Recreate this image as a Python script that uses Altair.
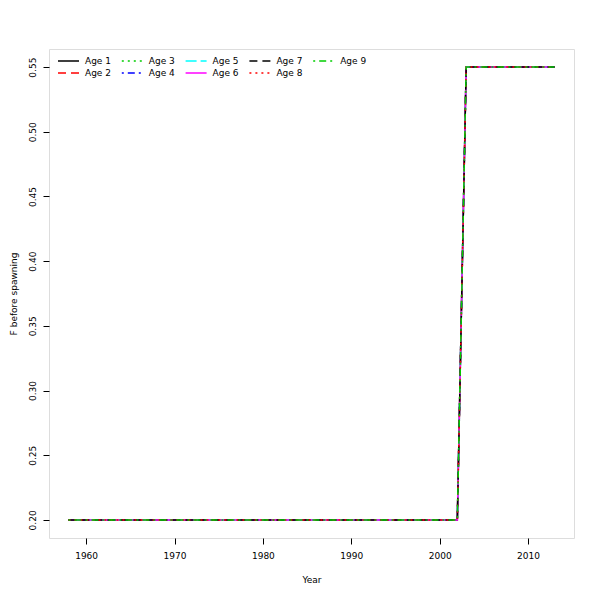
import altair as alt
import pandas as pd

years = [1958, 1959, 1960, 1961, 1962, 1963, 1964, 1965, 1966, 1967,
         1968, 1969, 1970, 1971, 1972, 1973, 1974, 1975, 1976, 1977,
         1978, 1979, 1980, 1981, 1982, 1983, 1984, 1985, 1986, 1987,
         1988, 1989, 1990, 1991, 1992, 1993, 1994, 1995, 1996, 1997,
         1998, 1999, 2000, 2001, 2002, 2003, 2004, 2005, 2006, 2007,
         2008, 2009, 2010, 2011, 2012, 2013]
f_values = [0.20, 0.20, 0.20, 0.20, 0.20, 0.20, 0.20, 0.20, 0.20, 0.20,
            0.20, 0.20, 0.20, 0.20, 0.20, 0.20, 0.20, 0.20, 0.20, 0.20,
            0.20, 0.20, 0.20, 0.20, 0.20, 0.20, 0.20, 0.20, 0.20, 0.20,
            0.20, 0.20, 0.20, 0.20, 0.20, 0.20, 0.20, 0.20, 0.20, 0.20,
            0.20, 0.20, 0.20, 0.20, 0.20, 0.55, 0.55, 0.55, 0.55, 0.55,
            0.55, 0.55, 0.55, 0.55, 0.55, 0.55]
ages = ["Age 1", "Age 2", "Age 3", "Age 4", "Age 5", "Age 6", "Age 7", "Age 8", "Age 9"]
colors = ["#000000", "#FF0000", "#00CD00", "#0000FF", "#00FFFF",
          "#FF00FF", "#000000", "#FF0000", "#00CD00"]
dashes = [[1, 0], [8, 5], [2, 4], [2, 4, 7, 4], [11, 4],
          [1, 0], [8, 5], [2, 4], [2, 4, 7, 4]]
x_ticks = [1960, 1970, 1980, 1990, 2000, 2010]
y_ticks = [0.20, 0.25, 0.30, 0.35, 0.40, 0.45, 0.50, 0.55]

rows = []
for a in ages:
    for yr, v in zip(years, f_values):
        rows.append({"age": a, "year": yr, "f": v})
df = pd.DataFrame(rows)

# legend fills row-wise; reorder so it reads column-wise like R
legend_order = [0, 2, 4, 6, 8, 1, 3, 5, 7]
dom = [ages[i] for i in legend_order]
col_rng = [colors[i] for i in legend_order]
dash_rng = [dashes[i] for i in legend_order]

FONT = "DejaVu Sans"
leg = alt.Legend(title=None, orient="none", legendX=12.5, legendY=5, columns=5,
                 direction="horizontal",
                 symbolType="M-1.75,0H1.75", symbolSize=144, symbolStrokeWidth=1.5,
                 labelFont=FONT, labelFontSize=9, labelColor="black",
                 labelOffset=9.5, columnPadding=6.8, rowPadding=0, padding=0)

chart = alt.Chart(df).mark_line(strokeWidth=1.5).encode(
    x=alt.X("year:Q", scale=alt.Scale(domain=[1955.8, 2015.2], nice=False, zero=False),
            axis=alt.Axis(title="Year", values=x_ticks, format="d", grid=False,
                          domain=False, tickColor="black", tickSize=6,
                          labelFont=FONT, labelFontSize=9, labelColor="black",
                          labelPadding=7, titleFont=FONT, titleFontSize=9,
                          titleFontWeight="normal", titleColor="black", titlePadding=15,
                          labelFlush=False)),
    y=alt.Y("f:Q", scale=alt.Scale(domain=[0.186, 0.564], nice=False, zero=False),
            axis=alt.Axis(title="F before spawning", values=y_ticks, format=".2f", grid=False,
                          domain=False, tickColor="black", tickSize=6,
                          labelFont=FONT, labelFontSize=9, labelColor="black",
                          labelAngle=-90, labelAlign="center", labelBaseline="bottom",
                          labelPadding=6, titleFont=FONT, titleFontSize=9,
                          titleFontWeight="normal", titleColor="black", titlePadding=10,
                          labelFlush=False)),
    color=alt.Color("age:N", scale=alt.Scale(domain=dom, range=col_rng), legend=leg),
    strokeDash=alt.StrokeDash("age:N", scale=alt.Scale(domain=dom, range=dash_rng), legend=leg),
    order=alt.Order("age:N"),
).properties(
    width=525, height=489,
    autosize=alt.AutoSizeParams(type="none"),
    padding={"left": 41, "top": 41, "right": 18, "bottom": 54},
).configure_view(stroke="black", strokeWidth=1).configure(background="white")

chart.save("out.html", embed_options={"renderer": "svg", "actions": False})
